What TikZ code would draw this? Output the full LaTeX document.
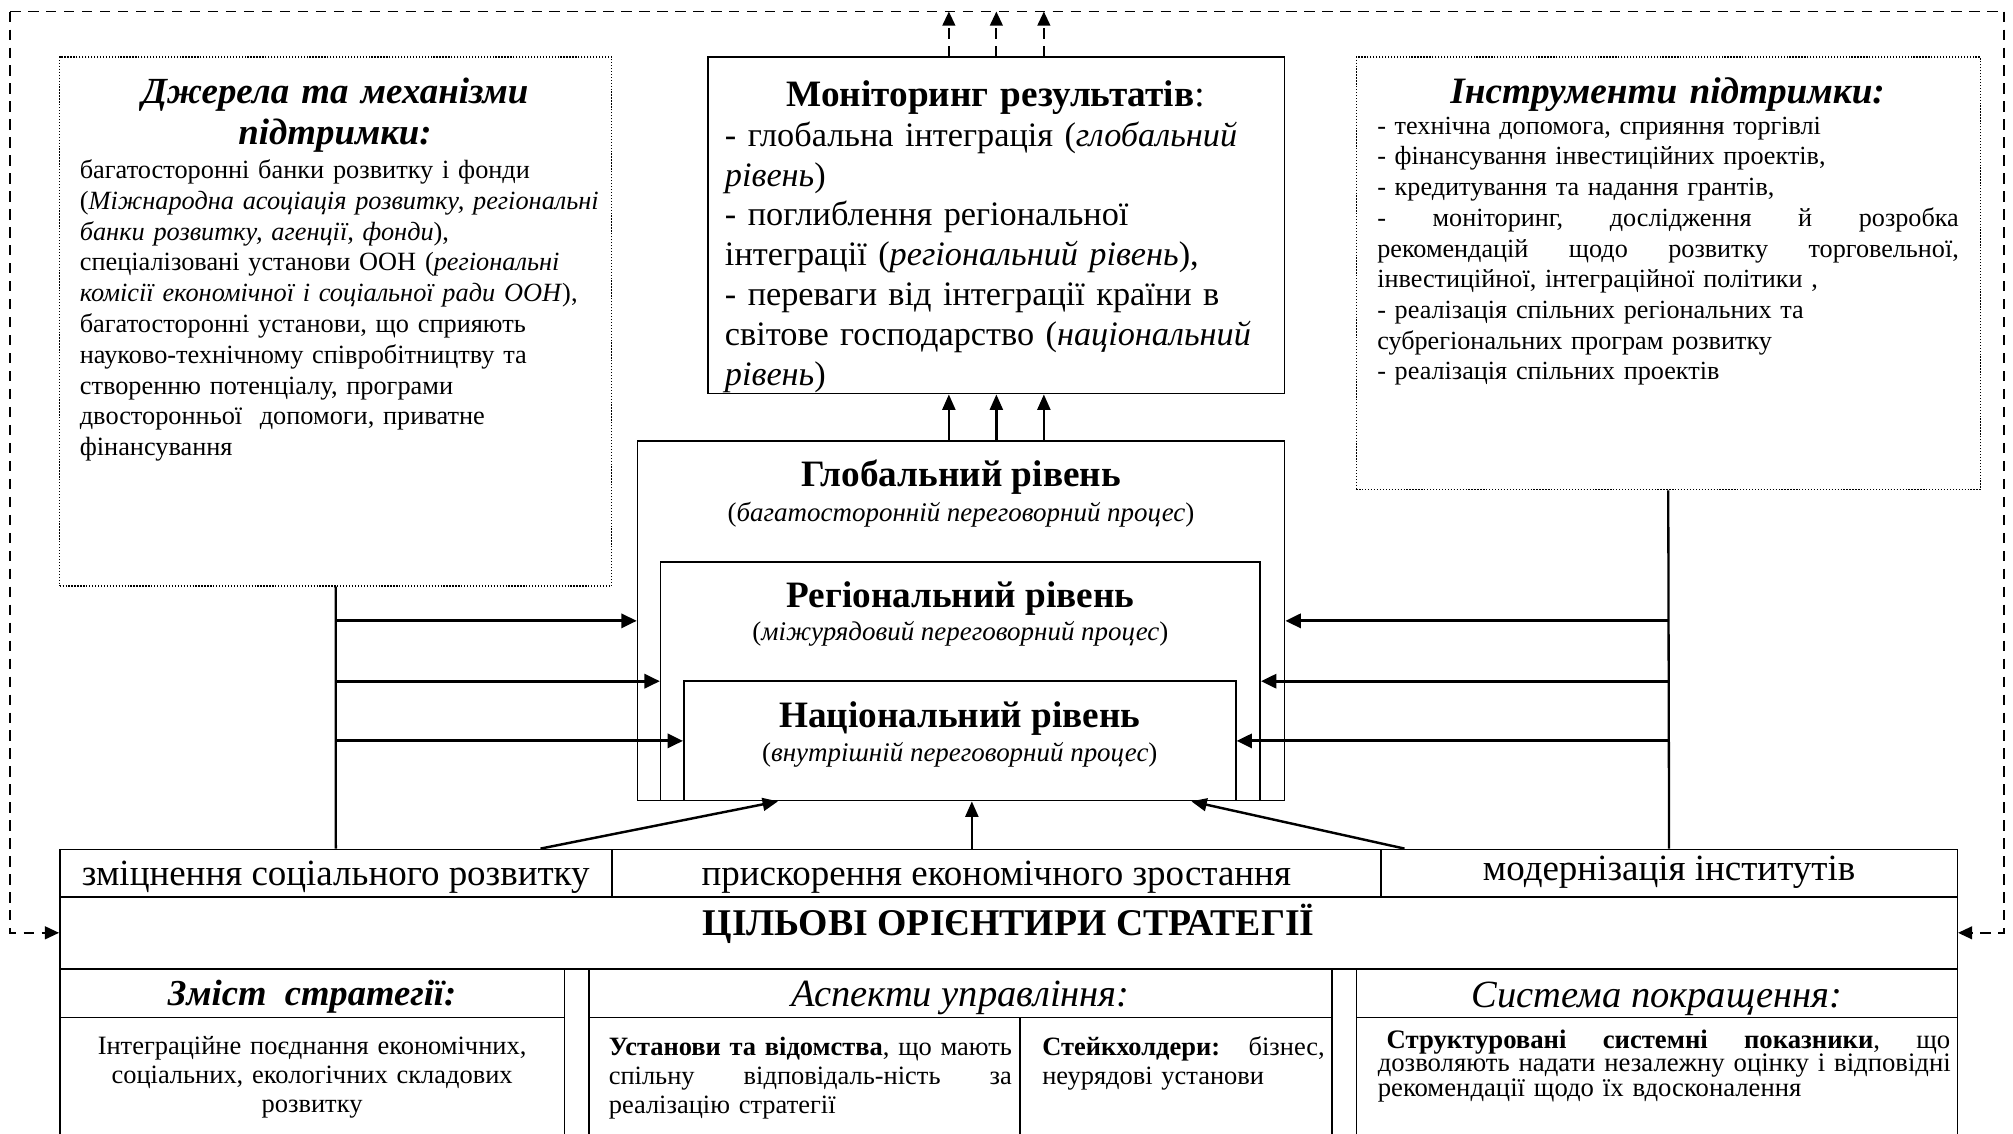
\documentclass[tikz,border=0pt]{standalone}
\usepackage{fontspec}
\setmainfont{Liberation Serif}
\usetikzlibrary{arrows.meta,calc}
\newcommand{\justline}[2]{\makebox[#1][l]{#2}}
\newcommand{\tightlines}{\setlength{\lineskiplimit}{-50pt}}
\tikzset{
  bx/.style={draw, line width=1.2pt, rectangle, inner sep=0pt, anchor=north west},
  dbx/.style={draw, line width=0.9pt, dash pattern=on 1pt off 1.3pt, rectangle, inner sep=0pt, anchor=north west},
  txt/.style={inner sep=0pt, anchor=base west, align=left},
  ctxt/.style={inner sep=0pt, anchor=base, align=center},
  spine/.style={line width=1.8pt},
  harr/.style={line width=2.2pt, -{Triangle[length=12pt,width=11pt]}},
  varr/.style={line width=1.9pt, -{Triangle[length=12pt,width=10pt]}},
  darr/.style={line width=1.4pt, dash pattern=on 8pt off 6pt, -{Triangle[length=11pt,width=10pt]}},
  dline/.style={line width=1.4pt, dash pattern=on 8pt off 6pt},
  fbody/.style={font=\fontsize{20.5}{24}\selectfont},
  flvl/.style={font=\fontsize{29}{33}\selectfont\bfseries},
  fsub/.style={font=\fontsize{21}{24}\selectfont},
  frow/.style={font=\fontsize{28.8}{32}\selectfont},
  fhead/.style={font=\fontsize{30}{33}\selectfont\itshape},
}
\begin{document}
\begin{tikzpicture}[x=1pt,y=-1pt]
\useasboundingbox (0,0) rectangle (1568,883.3);
\fill[white] (0,0) rectangle (1568,883.3);
\clip (0,0) rectangle (1568,883.3);

% ---------- boxes ----------
\node[dbx, minimum width=430pt, minimum height=412pt] (L) at (46,44) {};
\node[bx,  minimum width=449pt, minimum height=262pt] (M) at (551,44) {};
\node[dbx, minimum width=486pt, minimum height=337pt] (R) at (1056,44) {};
\node[bx,  minimum width=504pt, minimum height=280pt] (G) at (496,343) {};
\node[bx,  minimum width=467pt, minimum height=186pt] (Rg) at (514,437) {};
\node[bx,  minimum width=430pt, minimum height=93pt] (N) at (532,530) {};

\node[bx, minimum width=430pt, minimum height=37pt] (B1) at (46,661) {};
\node[bx, minimum width=599pt, minimum height=37pt] (B2) at (476,661) {};
\node[bx, minimum width=449pt, minimum height=37pt] (B3) at (1075,661) {};
\node[bx, minimum width=1478pt, minimum height=56pt] (T) at (46,698) {};

\node[bx, minimum width=393pt, minimum height=38pt] (C1h) at (46,754) {};
\node[bx, minimum width=393pt, minimum height=130pt] (C1b) at (46,792) {};
\node[bx, minimum width=579pt, minimum height=38pt] (C2h) at (458,754) {};
\node[bx, minimum width=336pt, minimum height=130pt] (C2a) at (458,792) {};
\node[bx, minimum width=243pt, minimum height=130pt] (C2b) at (794,792) {};
\node[bx, minimum width=468pt, minimum height=38pt] (C3h) at (1056,754) {};
\node[bx, minimum width=468pt, minimum height=130pt] (C3b) at (1056,792) {};

% ---------- texts ----------
\node[ctxt, text width=420pt, font=\fontsize{28.7}{31.5}\selectfont\bfseries\itshape] (Lt) at (261,81) {Джерела та механізми\\підтримки:};
\node[txt, fbody, text width=420pt] (Lb) at (62,139) {багатосторонні банки розвитку і фонди\\
(\textit{Міжнародна асоціація розвитку, регіональні}\\
\textit{банки розвитку, агенції, фонди}),\\
спеціалізовані установи ООН (\textit{регіональні}\\
\textit{комісії економічної і соціальної ради ООН}),\\
багатосторонні установи, що сприяють\\
науково-технічному співробітництву та\\
створенню потенціалу, програми\\
двосторонньої~ допомоги, приватне\\
фінансування};

\node[ctxt, text width=440pt, font=\fontsize{29}{31}\selectfont] (Mt) at (775.5,83) {\textbf{Моніторинг результатів}:};
\node[txt, text width=436pt, font=\fontsize{26.7}{31}\selectfont] (Mb) at (564.5,114) {- глобальна інтеграція (\textit{глобальний}\\
\textit{рівень})\\
- поглиблення регіональної\\
інтеграції (\textit{регіональний рівень}),\\
- переваги від інтеграції країни в\\
світове господарство (\textit{національний}\\
\textit{рівень})};

\node[ctxt, text width=470pt, font=\fontsize{29}{31}\selectfont\bfseries\itshape] (Rt) at (1299,81) {Інструменти підтримки:};
\node[txt, text width=460pt, font=\fontsize{20.4}{23.9}\selectfont] (Rb) at (1072.6,104.6) {- технічна допомога, сприяння торгівлі\\
- фінансування інвестиційних проектів,\\
- кредитування та надання грантів,\\
\justline{453pt}{-\hfill моніторинг,\hfill дослідження\hfill й\hfill розробка}\\
\justline{453pt}{рекомендацій\hfill щодо\hfill розвитку\hfill торговельної,}\\
інвестиційної, інтеграційної політики ,\\
- реалізація спільних регіональних та\\
субрегіональних програм розвитку\\
- реалізація спільних проектів};

\node[ctxt, flvl] (Gt) at ($(G.north)+(0,36)$) {Глобальний рівень};
\node[ctxt, fsub] (Gs) at ($(G.north)+(0,63)$) {(\textit{багатосторонній переговорний процес})};
\node[ctxt, flvl] (Rgt) at ($(Rg.north)+(0,36)$) {Регіональний рівень};
\node[ctxt, fsub] (Rgs) at ($(Rg.north)+(0,62)$) {(\textit{міжурядовий переговорний процес})};
\node[ctxt, flvl] (Nt) at ($(N.north)+(0,37)$) {Національний рівень};
\node[ctxt, fsub] (Ns) at ($(N.north)+(0,63)$) {(\textit{внутрішній переговорний процес})};

\node[ctxt, frow] (B1t) at ($(B1.center)+(0,10)$) {зміцнення соціального розвитку};
\node[ctxt, frow] (B2t) at ($(B2.center)+(0,10)$) {прискорення економічного зростання};
\node[ctxt, frow] (B3t) at ($(B3.center)+(0,6)$) {модернізація інститутів};
\node[ctxt, font=\fontsize{29.4}{33}\selectfont\bfseries] (Tt) at ($(T.north)+(0,31)$) {ЦІЛЬОВІ ОРІЄНТИРИ СТРАТЕГІЇ};

\node[ctxt, font=\fontsize{28.5}{32}\selectfont\bfseries\itshape] (C1t) at ($(C1h.north)+(0,29)$) {Зміст~ стратегії:};
\node[ctxt, fhead] (C2t) at ($(C2h.north)+(0,30)$) {Аспекти управління:};
\node[ctxt, fhead] (C3t) at ($(C3h.north)+(0,31)$) {Система покращення:};

\node[ctxt, text width=380pt, font=\fontsize{20.6}{22.6}\selectfont] (C1x) at ($(C1b.north)+(0,29.5)$) {Інтеграційне поєднання економічних,\\соціальних, екологічних складових\\розвитку};
\node[txt, text width=330pt, font=\fontsize{20.6}{22.6}\selectfont] (C2ax) at (474,822) {\justline{314pt}{\textbf{Установи\hfill та\hfill відомства},\hfill що\hfill мають}\\
\justline{314pt}{спільну\hfill відповідаль-ність\hfill за}\\
реалізацію стратегії};
\node[txt, text width=230pt, font=\fontsize{20.6}{22.6}\selectfont] (C2bx) at (811.7,822) {\justline{220pt}{\textbf{Стейкхолдери:}\hfill бізнес,}\\
неурядові установи};
\node[txt, text width=470pt, font=\fontsize{20.8}{18}\selectfont] (C3x) at (1073,817) {\tightlines\justline{446pt}{\ \textbf{Структуровані}\hfill\textbf{системні}\hfill\textbf{показники},\hfill що}\\
дозволяють надати незалежну оцінку і відповідні\\
рекомендації щодо їх вдосконалення};

% ---------- connectors ----------
\draw[spine] (L.south) -- (B1.north);
\draw[harr] (L.south |- G.west) -- (G.west);
\draw[harr] (L.south |- Rg.west) -- (Rg.west);
\draw[harr] (L.south |- N.west) -- (N.west);
\draw[spine] (R.south) -- (B3.north);
\draw[harr] (R.south |- G.east) -- (G.east);
\draw[harr] (R.south |- Rg.east) -- (Rg.east);
\draw[harr] (R.south |- N.east) -- (N.east);

\coordinate (m1) at ($(M.south)+(-37,0)$);
\coordinate (m2) at (M.south);
\coordinate (m3) at ($(M.south)+(37,0)$);
\coordinate (tl) at (8,9);
\coordinate (tr) at (1561,9);
\foreach \c in {m1,m2,m3}{
  \draw[varr] (\c |- G.north) -- (\c);
  \draw[darr] (\c |- M.north) -- (\c |- tl);
}
\draw[dline] (tl) -- (tr);
\draw[darr] (tl) -- (tl |- T.west) -- (T.west);
\draw[darr] (tr) -- (tr |- T.east) -- (T.east);

\coordinate (d1s) at ($(B1.north west)+(375,0)$);
\coordinate (d1e) at ($(N.south west)+(74,0)$);
\coordinate (d2s) at ($(B2.north west)+(281,0)$);
\coordinate (d3s) at ($(B3.north west)+(19,0)$);
\coordinate (d3e) at ($(N.south west)+(396,0)$);
\draw[varr] (d1s) -- (d1e);
\draw[varr] (d2s) -- (d2s |- N.south);
\draw[varr] (d3s) -- (d3e);
\end{tikzpicture}
\end{document}
